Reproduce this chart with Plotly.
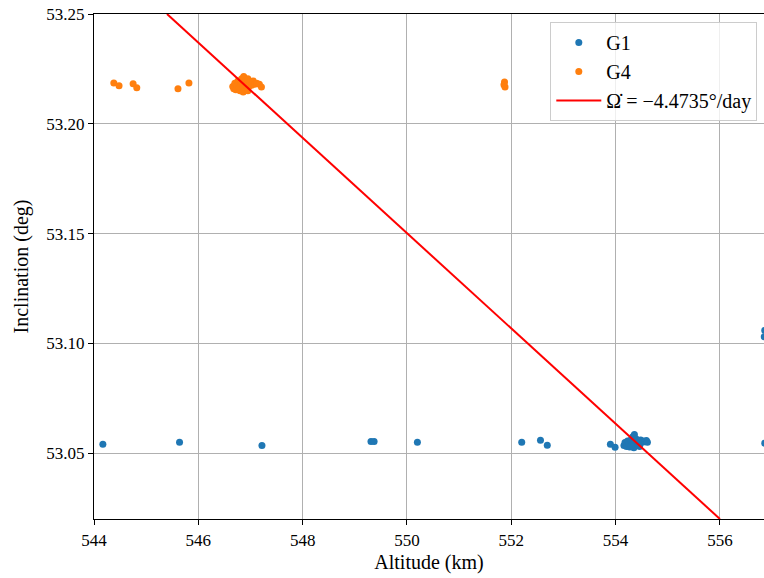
import plotly.graph_objects as go

# G1 group (altitude km, inclination deg)
g1_alt = [544.17, 545.64, 547.22, 549.31, 549.37, 550.20, 552.20, 552.56, 552.69,
          553.90, 553.99,
          554.16, 554.18, 554.21, 554.23, 554.25, 554.27, 554.29, 554.31, 554.33,
          554.34, 554.36, 554.37, 554.39, 554.40, 554.42, 554.44, 554.46, 554.48,
          554.50, 554.53, 554.56, 554.59, 554.61, 554.35, 554.30,
          556.86, 556.85, 556.86]
g1_inc = [53.0540, 53.0550, 53.0535, 53.0553, 53.0553, 53.0549, 53.0549, 53.0559, 53.0536,
          53.0541, 53.0527,
          53.0535, 53.0548, 53.0530, 53.0555, 53.0540, 53.0528, 53.0560, 53.0545, 53.0575,
          53.0530, 53.0585, 53.0550, 53.0565, 53.0535, 53.0555, 53.0545, 53.0530, 53.0560,
          53.0548, 53.0555, 53.0552, 53.0558, 53.0550, 53.0525, 53.0533,
          53.1059, 53.1030, 53.0545]

# G4 group
g4_alt = [544.38, 544.48, 544.75, 544.82, 545.61, 545.82,
          546.66, 546.68, 546.70, 546.72, 546.74, 546.76, 546.78, 546.80, 546.81,
          546.83, 546.85, 546.87, 546.88, 546.90, 546.92, 546.93, 546.95, 546.97,
          546.99, 547.02, 547.05, 547.08, 547.12, 547.17, 547.21, 546.86, 546.95,
          551.87, 551.86, 551.88]
g4_inc = [53.2186, 53.2173, 53.2182, 53.2164, 53.2159, 53.2186,
          53.2170, 53.2160, 53.2185, 53.2155, 53.2175, 53.2195, 53.2160, 53.2150, 53.2185,
          53.2205, 53.2170, 53.2215, 53.2150, 53.2195, 53.2180, 53.2160, 53.2205, 53.2170,
          53.2190, 53.2175, 53.2195, 53.2180, 53.2185, 53.2180, 53.2168, 53.2145, 53.2150,
          53.2190, 53.2178, 53.2167]

# Nodal precession line
line_alt = [545.40, 556.00]
line_inc = [53.25, 53.02]
line_label = "Ω̇ = −4.4735°/day"

x_ticks = [544, 546, 548, 550, 552, 554, 556]
y_ticks = [53.05, 53.10, 53.15, 53.20, 53.25]

FONT = "Liberation Serif"

fig = go.Figure()
fig.add_trace(go.Scatter(x=g1_alt, y=g1_inc, mode="markers", name="G1",
                         marker=dict(color="#1f77b4", size=7, line=dict(width=0))))
fig.add_trace(go.Scatter(x=g4_alt, y=g4_inc, mode="markers", name="G4",
                         marker=dict(color="#ff7f0e", size=7, line=dict(width=0))))
fig.add_trace(go.Scatter(x=line_alt, y=line_inc, mode="lines", name=line_label,
                         line=dict(color="red", width=2)))

fig.update_layout(
    width=764, height=578,
    margin=dict(l=94, r=0, t=14, b=59),
    plot_bgcolor="white", paper_bgcolor="white",
    font=dict(family=FONT, size=17, color="black"),
    legend=dict(x=0.99, y=0.984, xanchor="right", yanchor="top",
                bgcolor="rgba(255,255,255,0.8)", bordercolor="#cccccc", borderwidth=1,
                itemwidth=45,
                font=dict(family=FONT, size=20)),
    xaxis=dict(range=[544, 556.845], tickvals=x_ticks, ticktext=[str(v) for v in x_ticks],
               showgrid=True, gridcolor="#b0b0b0", gridwidth=1,
               showline=True, linecolor="black", linewidth=1.3, mirror=True,
               ticks="outside", ticklen=5, tickcolor="black", zeroline=False,
               title=dict(text="Altitude (km)", standoff=6, font=dict(size=20))),
    yaxis=dict(range=[53.02, 53.25], tickvals=y_ticks, ticktext=[f"{v:.2f}" for v in y_ticks],
               showgrid=True, gridcolor="#b0b0b0", gridwidth=1,
               showline=True, linecolor="black", linewidth=1.3,
               ticks="outside", ticklen=5, tickcolor="black", zeroline=False,
               title=dict(text="Inclination (deg)", standoff=12, font=dict(size=20))),
)

fig.write_html("out.html")
